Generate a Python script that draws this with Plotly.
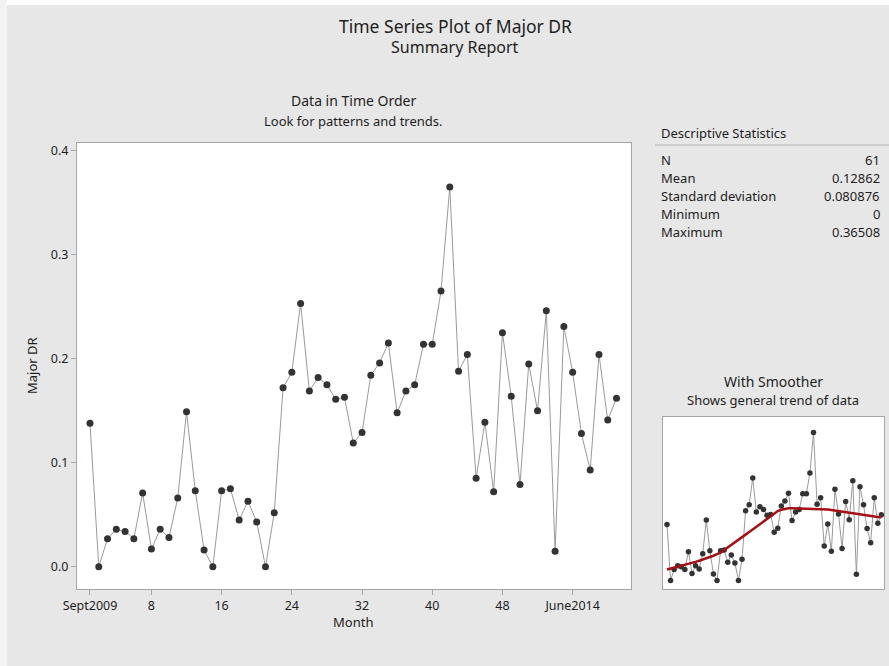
import numpy as np
import plotly.graph_objects as go

# Monthly Major DR values, index 1..61
major_dr = [
    0.138, 0.000, 0.027, 0.036, 0.034, 0.027, 0.071, 0.017, 0.036, 0.028,
    0.066, 0.149, 0.073, 0.016, 0.000, 0.073, 0.075, 0.045, 0.063, 0.043,
    0.000, 0.052, 0.172, 0.187, 0.253, 0.169, 0.182, 0.175, 0.161, 0.163,
    0.119, 0.129, 0.184, 0.196, 0.215, 0.148, 0.169, 0.175, 0.214, 0.214,
    0.265, 0.36508, 0.188, 0.204, 0.085, 0.139, 0.072, 0.225, 0.164, 0.079,
    0.195, 0.150, 0.246, 0.015, 0.231, 0.187, 0.128, 0.093, 0.204, 0.141,
    0.162,
]
month = list(range(1, len(major_dr) + 1))

tick_vals = [1, 8, 16, 24, 32, 40, 48, 56]
tick_text = ["Sept2009", "8", "16", "24", "32", "40", "48", "June2014"]

stat_names = ["N", "Mean", "Standard deviation", "Minimum", "Maximum"]
stat_values = ["61", "0.12862", "0.080876", "0", "0.36508"]


def lowess(x, y, frac=0.5, iters=2):
    """Locally weighted linear regression with bisquare robustness steps."""
    x = np.asarray(x, float)
    y = np.asarray(y, float)
    n = len(x)
    k = int(np.ceil(frac * n))
    robust = np.ones(n)
    fit = np.zeros(n)
    for _ in range(iters + 1):
        for i in range(n):
            d = np.abs(x - x[i])
            h = np.sort(d)[k - 1]
            w = np.clip(d / h, 0, 1)
            w = (1 - w ** 3) ** 3 * robust
            sw = w.sum()
            mx = (w * x).sum() / sw
            my = (w * y).sum() / sw
            sxx = (w * (x - mx) ** 2).sum()
            b = (w * (x - mx) * (y - my)).sum() / sxx if sxx > 0 else 0.0
            fit[i] = my + b * (x[i] - mx)
        res = y - fit
        s = np.median(np.abs(res))
        u = np.clip(res / (6 * s), -1, 1)
        robust = (1 - u ** 2) ** 2
    return fit


smooth = lowess(month, major_dr)

FONT = "Noto Sans"
TXT = "#1e1e1e"
FRAME = "#a6a6a6"
W, H = 889, 666

fig = go.Figure()

# main time-order plot
fig.add_trace(go.Scatter(
    x=month, y=major_dr, mode="lines+markers",
    line=dict(color="#9a9a9a", width=1),
    marker=dict(color="#333333", size=7),
    xaxis="x", yaxis="y", showlegend=False, hoverinfo="x+y",
))

# small panel with smoother
fig.add_trace(go.Scatter(
    x=month, y=major_dr, mode="lines+markers",
    line=dict(color="#9a9a9a", width=1),
    marker=dict(color="#333333", size=5.5),
    xaxis="x2", yaxis="y2", showlegend=False, hoverinfo="x+y",
))
fig.add_trace(go.Scatter(
    x=month, y=smooth, mode="lines",
    line=dict(color="#a50f15", width=2.5),
    xaxis="x2", yaxis="y2", showlegend=False, hoverinfo="skip",
))


def px(xp):
    return xp / W


def py(yp):
    return 1 - yp / H


axis_common = dict(showline=True, mirror=True, linecolor=FRAME, linewidth=1,
                   showgrid=False, zeroline=False, automargin=False)

fig.update_layout(
    width=W, height=H,
    margin=dict(l=0, r=0, t=0, b=0),
    paper_bgcolor="#e7e7e7",
    plot_bgcolor="white",
    font=dict(family=FONT, color=TXT),
    xaxis=dict(
        domain=[px(77), px(631)], range=[-0.48, 62.65],
        tickmode="array", tickvals=tick_vals, ticktext=tick_text,
        ticks="outside", ticklen=5, tickcolor=FRAME,
        tickfont=dict(size=12.5, color=TXT),
        anchor="y", **axis_common,
    ),
    yaxis=dict(
        domain=[py(589), py(143)], range=[-0.0214, 0.4074],
        tickmode="array", tickvals=[0.0, 0.1, 0.2, 0.3, 0.4],
        ticktext=["0.0", "0.1", "0.2", "0.3", "0.4"],
        ticks="outside", ticklen=5, tickcolor=FRAME,
        tickfont=dict(size=12.5, color=TXT),
        anchor="x", **axis_common,
    ),
    xaxis2=dict(
        domain=[px(663), px(884)], range=[-0.116, 61.73],
        showticklabels=False, ticks="", anchor="y2", **axis_common,
    ),
    yaxis2=dict(
        domain=[py(589), py(417)], range=[-0.0212, 0.4034],
        showticklabels=False, ticks="", anchor="x2", **axis_common,
    ),
)

annotations = [
    dict(text="Time Series Plot of Major DR", x=px(456), y=py(26), size=17.5),
    dict(text="Summary Report", x=px(455), y=py(47), size=16),
    dict(text="Data in Time Order", x=px(353), y=py(101), size=14),
    dict(text="Look for patterns and trends.", x=px(353), y=py(121), size=13),
    dict(text="With Smoother", x=px(773), y=py(382), size=14),
    dict(text="Shows general trend of data", x=px(773), y=py(400), size=13),
    dict(text="Month", x=px(353), y=py(622), size=13),
]
for a in annotations:
    fig.add_annotation(text=a["text"], x=a["x"], y=a["y"], xref="paper", yref="paper",
                       xanchor="center", yanchor="middle", showarrow=False,
                       font=dict(family=FONT, size=a["size"], color=TXT))

# y axis title
fig.add_annotation(text="Major DR", x=px(32), y=py(366), xref="paper", yref="paper",
                   xanchor="center", yanchor="middle", showarrow=False, textangle=-90,
                   font=dict(family=FONT, size=13, color=TXT))

# descriptive statistics table
fig.add_annotation(text="Descriptive Statistics", x=px(659), y=py(133), xref="paper",
                   yref="paper", xanchor="left", yanchor="middle", showarrow=False,
                   font=dict(family=FONT, size=13, color=TXT))
fig.add_shape(type="line", xref="paper", yref="paper", x0=px(655), x1=1,
              y0=py(145), y1=py(145), line=dict(color="#b4b4b4", width=1))
for i, (name, val) in enumerate(zip(stat_names, stat_values)):
    yy = py(160 + 18 * i)
    fig.add_annotation(text=name, x=px(659), y=yy, xref="paper", yref="paper",
                       xanchor="left", yanchor="middle", showarrow=False,
                       font=dict(family=FONT, size=13, color=TXT))
    fig.add_annotation(text=val, x=px(882), y=yy, xref="paper", yref="paper",
                       xanchor="right", yanchor="middle", showarrow=False,
                       font=dict(family=FONT, size=13, color=TXT))

# light window edges
fig.add_shape(type="rect", xref="paper", yref="paper", x0=0, x1=1, y0=py(5), y1=1,
              line=dict(width=0), fillcolor="white", layer="below")
fig.add_shape(type="rect", xref="paper", yref="paper", x0=0, x1=px(7), y0=0, y1=1,
              line=dict(width=0), fillcolor="#f3f3f3", layer="below")

fig.write_html("out.html")
